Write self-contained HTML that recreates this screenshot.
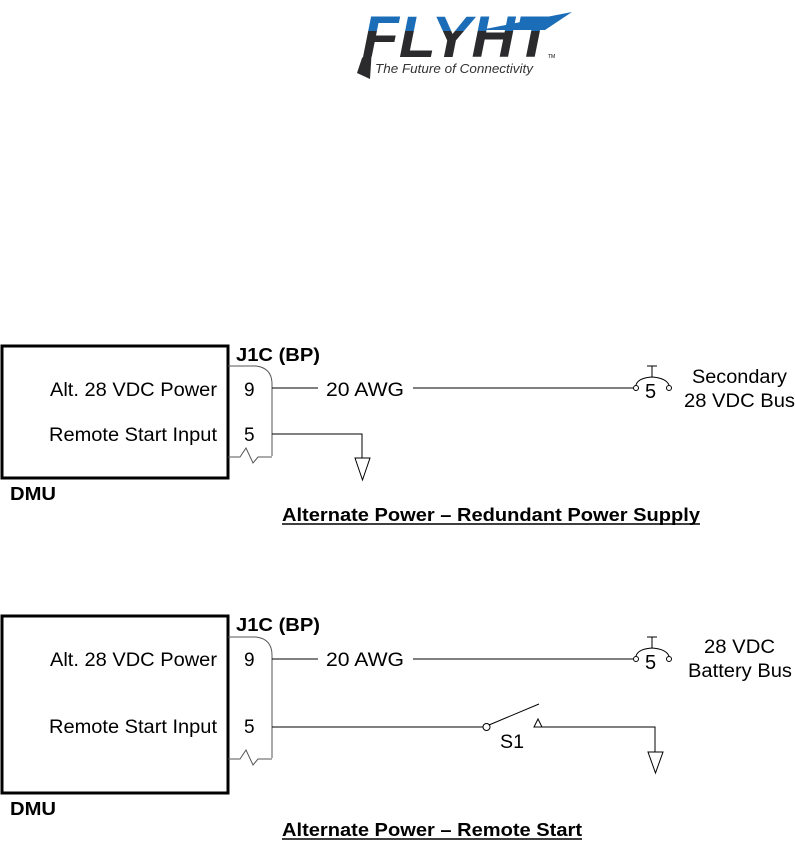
<!DOCTYPE html>
<html><head><meta charset="utf-8"><style>
html,body{margin:0;padding:0;background:#fff;}
svg{display:block;}
text{font-family:"Liberation Sans",Arial,sans-serif;}
</style></head><body>
<svg width="795" height="845" viewBox="0 0 795 845" xmlns="http://www.w3.org/2000/svg">
<defs>
<clipPath id="top"><rect x="300" y="0" width="300" height="31"/></clipPath>
<clipPath id="bot"><rect x="300" y="31" width="300" height="40"/></clipPath>
</defs>
<path d="M480 30 L572 12 L545 30 Z" fill="#1b6db8"/>
<path d="M362 58 L372 48 L370 79 L357 73 Z" fill="#2b2b2d"/>
<text x="362" y="57" font-size="58" font-weight="bold" font-style="italic" style="fill:#1b6db8" clip-path="url(#top)" textLength="190" lengthAdjust="spacingAndGlyphs">FLYHT</text>
<text x="362" y="57" font-size="58" font-weight="bold" font-style="italic" style="fill:#2b2b2d" clip-path="url(#bot)" textLength="190" lengthAdjust="spacingAndGlyphs">FLYHT</text>
<text x="548" y="58" font-size="5">TM</text>
<text x="375" y="73" font-size="12.5" font-style="italic" style="fill:#333" textLength="158" lengthAdjust="spacingAndGlyphs">The Future of Connectivity</text>

<g fill="none" stroke="#000">
<rect x="2" y="346" width="226" height="132" stroke-width="3"/>
<path d="M228 366 H256 Q272 368 272 384 V456" stroke="#555" stroke-width="1"/>
<path d="M228 457 H240 L246 448 L253 463 L258 457 H272" stroke="#555" stroke-width="1"/>
<line x1="272" y1="388" x2="318" y2="388"/>
<line x1="413" y1="388" x2="633" y2="388"/>
<circle cx="636" cy="388" r="2.5"/>
<circle cx="669" cy="388" r="2.5"/>
<path d="M636 385 Q638 378 652 377 Q666 378 669 385"/>
<path d="M652 377 V366 M647 366 H657"/>
<path d="M272 434 H362 V458"/>
<path d="M355 458 H370 L362.5 480 Z"/>
<rect x="2" y="616" width="226" height="177" stroke-width="3"/>
<path d="M228 637 H256 Q272 639 272 655 V758" stroke="#555" stroke-width="1"/>
<path d="M228 759 H240 L246 750 L253 765 L258 759 H272" stroke="#555" stroke-width="1"/>
<line x1="272" y1="659" x2="318" y2="659"/>
<line x1="413" y1="659" x2="633" y2="659"/>
<circle cx="636" cy="659" r="2.5"/>
<circle cx="669" cy="659" r="2.5"/>
<path d="M636 656 Q638 649 652 648 Q666 649 669 656"/>
<path d="M652 648 V637 M647 637 H657"/>
<path d="M272 727 H483"/>
<circle cx="486.5" cy="727" r="3.5"/>
<path d="M489 725 L539 704"/>
<path d="M534 727 L538 719 L542 727 Z"/>
<path d="M542 727 H655 V752"/>
<path d="M648 752 H663 L655.5 773 Z"/>
</g>

<g font-size="19" fill="#000">
<text x="50" y="396" textLength="167" lengthAdjust="spacingAndGlyphs">Alt. 28 VDC Power</text>
<text x="49" y="441" textLength="168" lengthAdjust="spacingAndGlyphs">Remote Start Input</text>
<text x="244" y="396">9</text>
<text x="244" y="441">5</text>
<text x="326" y="396" textLength="78" lengthAdjust="spacingAndGlyphs">20 AWG</text>
<text x="645" y="398" font-size="20">5</text>
<text x="692" y="383" textLength="95" lengthAdjust="spacingAndGlyphs">Secondary</text>
<text x="684" y="407" textLength="111" lengthAdjust="spacingAndGlyphs">28 VDC Bus</text>
<text x="50" y="666" textLength="167" lengthAdjust="spacingAndGlyphs">Alt. 28 VDC Power</text>
<text x="49" y="733" textLength="168" lengthAdjust="spacingAndGlyphs">Remote Start Input</text>
<text x="244" y="666">9</text>
<text x="244" y="733">5</text>
<text x="326" y="666" textLength="78" lengthAdjust="spacingAndGlyphs">20 AWG</text>
<text x="645" y="669" font-size="20">5</text>
<text x="704" y="653" textLength="71" lengthAdjust="spacingAndGlyphs">28 VDC</text>
<text x="688" y="677" textLength="104" lengthAdjust="spacingAndGlyphs">Battery Bus</text>
<text x="500" y="748" textLength="24" lengthAdjust="spacingAndGlyphs">S1</text>
</g>
<g font-size="18" font-weight="bold" fill="#000">
<text x="236" y="361" textLength="84" lengthAdjust="spacingAndGlyphs">J1C (BP)</text>
<text x="236" y="631" textLength="84" lengthAdjust="spacingAndGlyphs">J1C (BP)</text>
<text x="10" y="500" textLength="46" lengthAdjust="spacingAndGlyphs">DMU</text>
<text x="10" y="815" textLength="46" lengthAdjust="spacingAndGlyphs">DMU</text>
<text x="282" y="521" textLength="418" lengthAdjust="spacingAndGlyphs">Alternate Power – Redundant Power Supply</text>
<text x="282" y="836" textLength="300" lengthAdjust="spacingAndGlyphs">Alternate Power – Remote Start</text>
</g>
<line x1="282" y1="524" x2="700" y2="524" stroke="#000" stroke-width="1.5"/>
<line x1="282" y1="839" x2="582" y2="839" stroke="#000" stroke-width="1.5"/>
</svg>
</body></html>
